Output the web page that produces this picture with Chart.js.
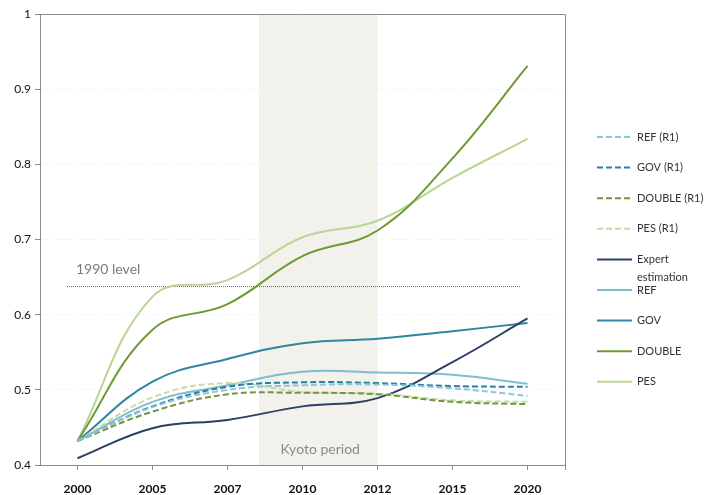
<!DOCTYPE html>
<html>
<head>
<meta charset="utf-8">
<script src="https://cdn.jsdelivr.net/npm/chart.js@4.4.1/dist/chart.umd.min.js"></script>
<style>
  html, body { margin: 0; padding: 0; background: #fff; }
  #wrap { width: 708px; height: 495px; position: relative; }
</style>
</head>
<body>
<div id="wrap"><canvas id="chart"></canvas></div>
<script>
// categories
const years = ["2000", "2005", "2007", "2010", "2012", "2015", "2020"];

// scenario runs (R1) - dashed
const refR1 = [0.432, 0.477, 0.500, 0.506, 0.507, 0.502, 0.492];
const govR1 = [0.432, 0.478, 0.504, 0.510, 0.509, 0.505, 0.504];
const doubleR1 = [0.432, 0.471, 0.494, 0.496, 0.494, 0.484, 0.481];
const pesR1 = [0.432, 0.490, 0.509, 0.497, 0.495, 0.486, 0.484];

// expert estimation and scenarios - solid
const expert = [0.409, 0.449, 0.460, 0.478, 0.489, 0.537, 0.595];
const ref = [0.432, 0.484, 0.506, 0.524, 0.523, 0.520, 0.508];
const gov = [0.432, 0.511, 0.541, 0.562, 0.568, 0.578, 0.589];
const dbl = [0.432, 0.580, 0.614, 0.678, 0.712, 0.808, 0.931];
const pes = [0.432, 0.624, 0.646, 0.703, 0.725, 0.782, 0.834];

// reference values
const level1990 = 0.638;
const level1990From = -0.14; // category index
const level1990To = 5.9;
const kyotoFrom = 2.42; // category index (2008)
const kyotoTo = 4;      // 2012

const axisGray = "#8c8c8c";
const fontFam = "Lato, 'Open Sans', sans-serif";

function line(label, data, color, dashed) {
  return {
    label: label,
    data: data,
    borderColor: color,
    backgroundColor: color,
    borderWidth: 2,
    borderDash: dashed ? [6, 3] : [],
    pointRadius: 0,
    pointHoverRadius: 0,
    tension: 0.4,
    fill: false
  };
}

// shaded Kyoto band + 1990 line + frame
const backdrop = {
  id: "backdrop",
  beforeDatasetsDraw(chart) {
    const { ctx, chartArea, scales } = chart;
    const x = scales.x, y = scales.y;
    ctx.save();
    const x1 = x.getPixelForValue(kyotoFrom);
    const x2 = x.getPixelForValue(kyotoTo);
    ctx.fillStyle = "#f2f1eb";
    ctx.fillRect(x1, chartArea.top, x2 - x1, chartArea.bottom - chartArea.top);

    ctx.fillStyle = "#8a8a8a";
    ctx.font = "14px " + fontFam;
    ctx.textAlign = "center";
    ctx.textBaseline = "middle";
    ctx.fillText("Kyoto period", (x1 + x2) / 2 + 2, chartArea.bottom - 16);

    // 1990 level
    const ly = y.getPixelForValue(level1990);
    ctx.strokeStyle = "#666";
    ctx.lineWidth = 1;
    ctx.setLineDash([1, 1]);
    ctx.beginPath();
    ctx.moveTo(x.getPixelForValue(level1990From), ly + 0.5);
    ctx.lineTo(x.getPixelForValue(level1990To), ly + 0.5);
    ctx.stroke();
    ctx.setLineDash([]);
    ctx.fillStyle = "#7a7a7a";
    ctx.textAlign = "left";
    ctx.fillText("1990 level", x.getPixelForValue(level1990From) + 9, ly - 17);
    ctx.restore();
  },
  afterDraw(chart) {
    const { ctx, chartArea } = chart;
    ctx.save();
    ctx.strokeStyle = axisGray;
    ctx.lineWidth = 1;
    ctx.beginPath();
    ctx.moveTo(chartArea.left, chartArea.top + 0.5);
    ctx.lineTo(chartArea.right + 0.5, chartArea.top + 0.5);
    ctx.lineTo(chartArea.right + 0.5, chartArea.bottom + 5);
    ctx.stroke();
    ctx.restore();
  }
};

// legend on the right
const sideLegend = {
  id: "sideLegend",
  afterDraw(chart) {
    const { ctx } = chart;
    const x0 = 597, x1 = 632, tx = 637;
    const top = 137, step = 30.6;
    ctx.save();
    ctx.font = "11px " + fontFam;
    ctx.textBaseline = "middle";
    ctx.textAlign = "left";
    chart.data.datasets.forEach((ds, i) => {
      const yy = top + i * step;
      ctx.strokeStyle = ds.borderColor;
      ctx.lineWidth = 2;
      ctx.setLineDash(ds.borderDash);
      ctx.beginPath();
      ctx.moveTo(x0, yy);
      ctx.lineTo(x1, yy);
      ctx.stroke();
      ctx.setLineDash([]);
      ctx.fillStyle = "#333";
      // wrap long labels
      const words = ds.label.split(" ");
      const lines = [];
      let cur = "";
      words.forEach(w => {
        const test = cur ? cur + " " + w : w;
        if (cur && ctx.measureText(test).width > 66 && !/^\(/.test(w)) {
          lines.push(cur);
          cur = w;
        } else {
          cur = test;
        }
      });
      lines.push(cur);
      lines.forEach((t, k) => ctx.fillText(t, tx, yy + k * 18));
    });
    ctx.restore();
  }
};

new Chart(document.getElementById("chart"), {
  type: "line",
  data: {
    labels: years,
    datasets: [
      line("REF (R1)", refR1, "#8cc6da", true),
      line("GOV (R1)", govR1, "#287e9c", true),
      line("DOUBLE (R1)", doubleR1, "#74933a", true),
      line("PES (R1)", pesR1, "#c6dda2", true),
      line("Expert estimation", expert, "#2c4066", false),
      line("REF", ref, "#80bdce", false),
      line("GOV", gov, "#2f86a2", false),
      line("DOUBLE", dbl, "#6e9a34", false),
      line("PES", pes, "#bad596", false)
    ]
  },
  options: {
    responsive: true,
    maintainAspectRatio: false,
    animation: false,
    layout: { padding: { top: 14, right: 143, left: 0, bottom: 0 } },
    plugins: {
      legend: { display: false },
      tooltip: { enabled: false }
    },
    scales: {
      x: {
        offset: true,
        grid: {
          display: true,
          drawOnChartArea: false,
          drawTicks: true,
          tickLength: 5,
          tickColor: axisGray,
          offset: false
        },
        border: { color: axisGray, width: 1 },
        ticks: {
          color: "#111",
          padding: 12,
          maxRotation: 0,
          font: { family: fontFam, size: 12, weight: "bold" }
        },
        afterFit(scale) { scale.height = 30; }
      },
      y: {
        min: 0.4,
        max: 1,
        grid: {
          color: "#e0eff2",
          tickColor: axisGray,
          tickLength: 5,
          drawTicks: true
        },
        border: { color: axisGray, width: 1, dash: [1, 2] },
        ticks: {
          stepSize: 0.1,
          color: "#111",
          padding: 4,
          font: { family: fontFam, size: 12 },
          callback: v => Number(v.toFixed(1)).toString()
        },
        afterFit(scale) { scale.width = 40; }
      }
    }
  },
  plugins: [backdrop, sideLegend]
});
</script>
</body>
</html>
